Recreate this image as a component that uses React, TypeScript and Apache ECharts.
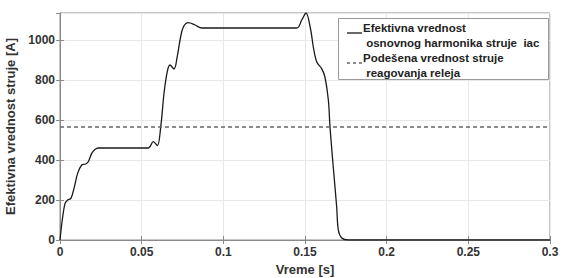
import React, { useEffect, useRef } from "react";
import * as echarts from "echarts";

const time = [0, 0.0014, 0.0031, 0.0047, 0.0067, 0.0088, 0.0108, 0.0133, 0.0157, 0.0173, 0.0194, 0.0214, 0.0234, 0.026, 0.0541, 0.0571, 0.0596, 0.0617, 0.0637, 0.0657, 0.0673, 0.0698, 0.0718, 0.0735, 0.0755, 0.0786, 0.0827, 0.0868, 0.1449, 0.148, 0.1506, 0.1535, 0.1551, 0.1572, 0.1602, 0.1622, 0.1643, 0.1653, 0.1673, 0.1694, 0.1704, 0.1725, 0.1765, 0.3];
const current = [0, 100, 183, 200, 208, 266, 333, 375, 380, 391, 433, 452, 460, 460, 460, 492, 472, 567, 735, 843, 875, 855, 918, 1000, 1065, 1087, 1075, 1060, 1060, 1100, 1135, 1050, 965, 890, 857, 815, 700, 565, 365, 165, 50, 10, 0, 0];
const thresholdTime = [0, 0.3];
const thresholdValue = [565, 565];
const xTicks = [0, 0.05, 0.1, 0.15, 0.2, 0.25, 0.3];
const yTicks = [0, 200, 400, 600, 800, 1000];
const legendLines = ["Efektivna vrednost", " osnovnog harmonika struje  iac", "Podešena vrednost struje", " reagovanja releja"];
const xName = "Vreme [s]";
const yName = "Efektivna vrednost struje [A]";

const FONT = "'Liberation Sans', Arial, sans-serif";

export default function App() {
  const ref = useRef<HTMLDivElement>(null);
  useEffect(() => {
    const chart = echarts.init(ref.current!, null, { renderer: "svg" });
    const labelStyle = { color: "#333", fontWeight: "bold" as const, fontSize: 12, fontFamily: FONT };
    chart.setOption({
      animation: false,
      grid: { left: 60, right: 16, top: 13, bottom: 38, outerBoundsMode: "none", containLabel: false, show: true, borderColor: "#8a8a8a", borderWidth: 1, backgroundColor: "#fff" },
      xAxis: [
        {
          type: "value", min: xTicks[0], max: xTicks[xTicks.length - 1], interval: 0.05,
          name: xName, nameLocation: "middle", nameGap: 20,
          nameTextStyle: { ...labelStyle, fontSize: 13 },
          axisLine: { show: true, lineStyle: { color: "#8a8a8a" } },
          axisTick: { show: true, inside: true, length: 4, lineStyle: { color: "#8a8a8a" } },
          axisLabel: { ...labelStyle, margin: 6 },
          splitLine: { show: true, lineStyle: { color: "#e8e8e8", width: 1 } },
        },
        {
          type: "value", position: "top", min: 0, max: 0.3, interval: 0.05,
          axisLine: { show: true, lineStyle: { color: "#8a8a8a" } },
          axisTick: { show: true, inside: true, length: 4, lineStyle: { color: "#8a8a8a" } },
          axisLabel: { show: false }, splitLine: { show: false },
        },
      ],
      yAxis: [
        {
          type: "value", min: yTicks[0], max: 1135, interval: 200,
          name: yName, nameLocation: "middle", nameGap: 34,
          nameTextStyle: { ...labelStyle, fontSize: 13 },
          axisLine: { show: true, lineStyle: { color: "#8a8a8a" } },
          axisTick: { show: true, inside: true, length: 4, lineStyle: { color: "#8a8a8a" } },
          axisLabel: { ...labelStyle, margin: 5, showMaxLabel: false, formatter: (v: number) => (yTicks.includes(v) ? String(v) : "") },
          splitLine: { show: true, lineStyle: { color: "#e8e8e8", width: 1 } },
        },
        {
          type: "value", position: "right", min: 0, max: 1135, interval: 200,
          axisLine: { show: true, lineStyle: { color: "#8a8a8a" } },
          axisTick: { show: true, inside: true, length: 4, lineStyle: { color: "#8a8a8a" } },
          axisLabel: { show: false }, splitLine: { show: false },
        },
      ],
      series: [
        {
          type: "line", name: legendLines[0], showSymbol: false, smooth: 0.35,
          data: time.map((t, i) => [t, current[i]]),
          lineStyle: { color: "#1a1a1a", width: 1.3 },
        },
        {
          type: "line", name: legendLines[2], showSymbol: false,
          data: thresholdTime.map((t, i) => [t, thresholdValue[i]]),
          lineStyle: { color: "#666", width: 1.3, type: [4, 3] },
        },
      ],
      graphic: [
        { type: "rect", shape: { x: 338.5, y: 18.5, width: 210, height: 61 }, style: { fill: "#fff", stroke: "#999", lineWidth: 1 }, z: 10 },
        { type: "line", shape: { x1: 347, y1: 33, x2: 362, y2: 33 }, style: { stroke: "#1a1a1a", lineWidth: 1.3 }, z: 11 },
        { type: "line", shape: { x1: 347, y1: 63, x2: 362, y2: 63 }, style: { stroke: "#666", lineWidth: 1.3, lineDash: [3, 3] }, z: 11 },
        { type: "text", x: 363, y: 28, style: { text: legendLines[0], font: `bold 11.5px ${FONT}`, fill: "#222", textVerticalAlign: "middle" }, z: 11 },
        { type: "text", x: 363, y: 43, style: { text: legendLines[1], font: `bold 11.5px ${FONT}`, fill: "#222", textVerticalAlign: "middle" }, z: 11 },
        { type: "text", x: 363, y: 58, style: { text: legendLines[2], font: `bold 11.5px ${FONT}`, fill: "#222", textVerticalAlign: "middle" }, z: 11 },
        { type: "text", x: 363, y: 73, style: { text: legendLines[3], font: `bold 11.5px ${FONT}`, fill: "#222", textVerticalAlign: "middle" }, z: 11 },
      ],
    });
    return () => chart.dispose();
  }, []);
  return <div ref={ref} style={{ width: 566, height: 278, position: "absolute", left: 0, top: 0 }} />;
}
